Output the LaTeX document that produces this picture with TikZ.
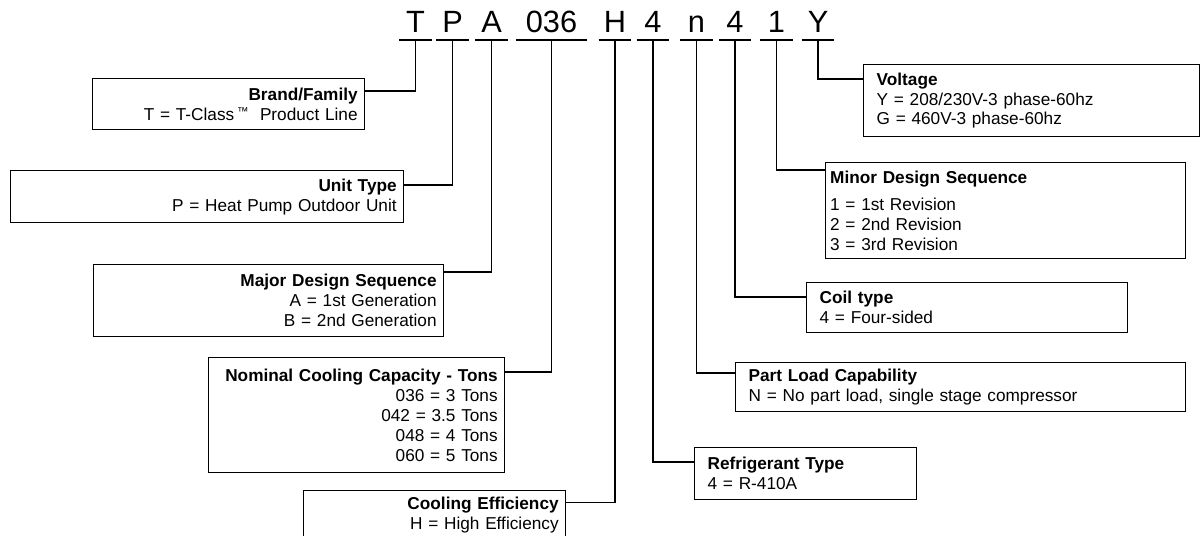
\documentclass[tikz,border=0pt]{standalone}
\usepackage{fontspec}
\setmainfont{Liberation Sans}

\begin{document}
\begin{tikzpicture}[
    every node/.style={font=\fontsize{9.8}{11.3}\selectfont},
    codelet/.style={font=\fontsize{17.5}{20}\selectfont, anchor=south, minimum width=0.64cm, inner xsep=0pt, inner ysep=0.14cm, text depth=0pt},
    keyl/.style={draw, line width=0.75pt, anchor=north west, inner xsep=0.14cm, inner ysep=0pt, align=right},
    keyr/.style={draw, line width=0.75pt, anchor=north west, inner xsep=0.26cm, inner ysep=0pt, align=left},
    link/.style={line width=1.1pt}
]
\clip (0,0) rectangle (24.02,-10.72);

% model number
\node[codelet] (cT) at (8.31,-0.8) {T};
\node[codelet] (cP) at (9.05,-0.8) {P};
\node[codelet] (cA) at (9.83,-0.8) {A};
\node[codelet, minimum width=1.42cm] (cCap) at (11.03,-0.8) {036};
\node[codelet] (cH) at (12.30,-0.8) {H};
\node[codelet] (cRef) at (13.06,-0.8) {4};
\node[codelet] (cN) at (13.93,-0.8) {n};
\node[codelet] (cCoil) at (14.70,-0.8) {4};
\node[codelet] (cMin) at (15.53,-0.8) {1};
\node[codelet] (cY) at (16.36,-0.8) {Y};

\draw[link] (cT.south west) -- (cT.south east);
\draw[link] (cP.south west) -- (cP.south east);
\draw[link] (cA.south west) -- (cA.south east);
\draw[link] (cCap.south west) -- (cCap.south east);
\draw[link] (cH.south west) -- (cH.south east);
\draw[link] (cRef.south west) -- (cRef.south east);
\draw[link] (cN.south west) -- (cN.south east);
\draw[link] (cCoil.south west) -- (cCoil.south east);
\draw[link] (cMin.south west) -- (cMin.south east);
\draw[link] (cY.south west) -- (cY.south east);

% left side
\node[keyl, text width=5.16cm, minimum height=1.02cm] (brand) at (1.84,-1.56) {\textbf{Brand/Family}\\ T = T-Class\,\raisebox{2.6pt}{\fontsize{6.5}{6.5}\selectfont ™}\ \ Product Line};
\node[keyl, text width=7.58cm, minimum height=1.04cm] (unit) at (0.20,-3.40) {\textbf{Unit Type}\\ P = Heat Pump Outdoor Unit};
\node[keyl, text width=6.72cm, minimum height=1.44cm] (major) at (1.86,-5.28) {\textbf{Major Design Sequence}\\ A = 1st Generation\\ B = 2nd Generation};
\node[keyl, text width=5.64cm, minimum height=2.30cm] (cap) at (4.16,-7.14) {\textbf{Nominal Cooling Capacity - Tons}\\ 036 = 3 Tons\\ 042 = 3.5 Tons\\ 048 = 4 Tons\\ 060 = 5 Tons};
\node[keyl, text width=4.96cm, minimum height=0.98cm] (eff) at (6.06,-9.80) {\textbf{Cooling Efficiency}\\ H = High Efficiency};

\draw[link] (cT.south) |- ([yshift=-0.26cm]brand.north east);
\draw[link] (cP.south) |- ([yshift=-0.30cm]unit.north east);
\draw[link] (cA.south) |- ([yshift=-0.16cm]major.north east);
\draw[link] (cCap.south) |- ([yshift=-0.30cm]cap.north east);
\draw[link] (cH.south) |- ([yshift=-0.25cm]eff.north east);

% right side
\node[keyr, text width=6.20cm, minimum height=1.44cm] (volt) at (17.26,-1.28) {\textbf{Voltage}\\ Y = 208/230V-3 phase-60hz\\ G = 460V-3 phase-60hz};
\node[keyr, inner xsep=0.09cm, text width=7.02cm, minimum height=1.92cm] (minor) at (16.50,-3.24) {\textbf{Minor Design Sequence}\\[4pt] 1 = 1st Revision\\ 2 = 2nd Revision\\ 3 = 3rd Revision};
\node[keyr, text width=5.90cm, minimum height=1.00cm] (coil) at (16.12,-5.64) {\textbf{Coil type}\\ 4 = Four-sided};
\node[keyr, text width=8.48cm, minimum height=0.98cm] (part) at (14.70,-7.24) {\textbf{Part Load Capability}\\ N = No part load, single stage compressor};
\node[keyr, text width=3.92cm, minimum height=1.04cm] (refr) at (13.88,-8.94) {\textbf{Refrigerant Type}\\ 4 = R-410A};

\draw[link] (cY.south) |- ([yshift=-0.30cm]volt.north west);
\draw[link] (cMin.south) |- ([yshift=-0.16cm]minor.north west);
\draw[link] (cCoil.south) |- ([yshift=-0.30cm]coil.north west);
\draw[link] (cN.south) |- ([yshift=-0.22cm]part.north west);
\draw[link] (cRef.south) |- ([yshift=-0.30cm]refr.north west);

\end{tikzpicture}
\end{document}
